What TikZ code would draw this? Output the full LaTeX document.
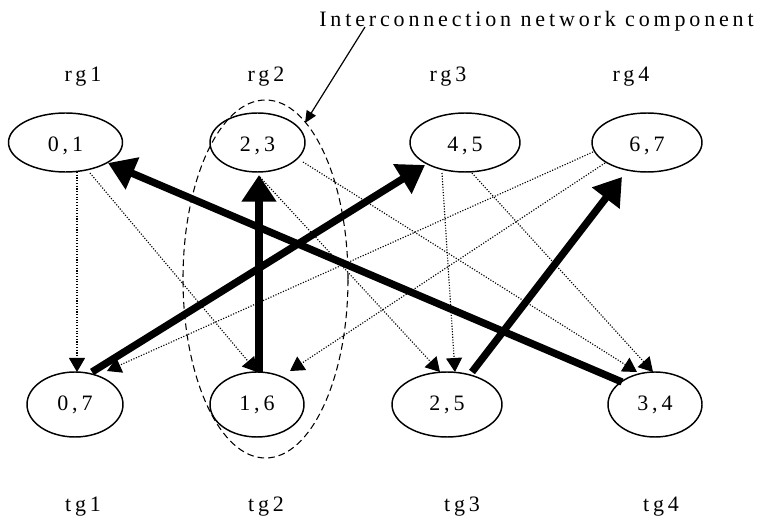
\documentclass[tikz,border=0pt]{standalone}
\usepackage{fontspec}
\setmainfont[LetterSpace=17.5]{Liberation Serif}
\usetikzlibrary{arrows.meta,shapes.geometric,calc}

\begin{document}
\begin{tikzpicture}[x=0.75pt,y=-0.75pt,
  every node/.style={font=\fontsize{16.5}{19}\selectfont},
  grp/.style={draw,ellipse,line width=1.1pt,inner sep=0pt},
  toprow/.style={grp,minimum height=44.25pt,text height=13.5pt,text depth=0pt},
  botrow/.style={grp,minimum height=48.75pt},
  tag/.style={anchor=base,inner sep=0pt},
  weak/.style={line width=0.85pt,dash pattern=on 0.85pt off 1.2pt,
    -{Triangle[length=10.5pt,width=12pt]}},
  strong/.style={line width=5.5pt,-{Triangle[length=20pt,width=25pt]}},
  netbox/.style={draw,ellipse,line width=0.8pt,dash pattern=on 5pt off 3pt,
    minimum width=123.75pt,minimum height=268.5pt,inner sep=0pt},
  pointer/.style={line width=0.9pt,-{Triangle[length=9pt,width=8pt]}}
]
\useasboundingbox (0,0) rectangle (758,520);

% interconnection network component
\node[netbox] (net) at (265.5,279) {};

% request groups
\node[toprow,minimum width=85.5pt]  (r1) at (65.5,142.5) {0,1};
\node[toprow,minimum width=71.25pt] (r2) at (257.5,142.5) {2,3};
\node[toprow,minimum width=82.5pt]  (r3) at (465,142.5) {4,5};
\node[toprow,minimum width=82.5pt]  (r4) at (647,142.5) {6,7};

% target groups
\node[botrow,minimum width=72pt]   (t1) at (75,404.5) {0,7};
\node[botrow,minimum width=70.5pt] (t2) at (257,404.5) {1,6};
\node[botrow,minimum width=82.5pt] (t3) at (447,404.5) {2,5};
\node[botrow,minimum width=70.5pt] (t4) at (655,404.5) {3,4};

% group labels
\node[tag] (lr1) at (83,82) {rg1};
\node[tag] (lr2) at (266,82) {rg2};
\node[tag] (lr3) at (448,82) {rg3};
\node[tag] (lr4) at (631,82) {rg4};
\node[tag] (lt1) at (83,512) {tg1};
\node[tag] (lt2) at (266,512) {tg2};
\node[tag] (lt3) at (462,512) {tg3};
\node[tag] (lt4) at (661,512) {tg4};

% caption and its pointer
\node[anchor=base west,inner sep=0pt] (cap) at (319,27) {Interconnection network component};
\coordinate (capfoot) at (365,27);
\draw[pointer] (capfoot) -- ($(net)+(39.5,-156)$);

% possible connections
\draw[weak] ($(r1)+(11.5,29.5)$) -- ($(t1)+(2,-32.5)$);
\draw[weak] ($(r1)+(24.5,30.5)$) -- ($(t2)+(0,-32.5)$);
\draw[weak] ($(r2)+(2.5,34.5)$) -- ($(t3)+(-7,-32.5)$);
\draw[weak] ($(r2)+(45.5,19.5)$) -- ($(t4)+(-18,-32.5)$);
\draw[weak] ($(r3)+(-23,30.5)$) -- ($(t3)+(8,-32.5)$);
\draw[weak] ($(r3)+(7,30.5)$) -- ($(t4)+(-2,-32.5)$);
\draw[weak] ($(r4)+(-54,9.5)$) -- ($(t1)+(32,-33.5)$);
\draw[weak] ($(r4)+(-42,20.5)$) -- ($(t2)+(33,-33.5)$);

% chosen connections
\draw[strong] ($(t4)+(-33,-22.5)$) -- ($(r1)+(42.5,20.5)$);
\draw[strong] ($(t2)+(2,-32.5)$) -- ($(r2)+(1.5,32.5)$);
\draw[strong] ($(t1)+(17,-32.5)$) -- ($(r3)+(-40,22.5)$);
\draw[strong] ($(t3)+(25,-32.5)$) -- ($(r4)+(-25,34.5)$);
\end{tikzpicture}
\end{document}
